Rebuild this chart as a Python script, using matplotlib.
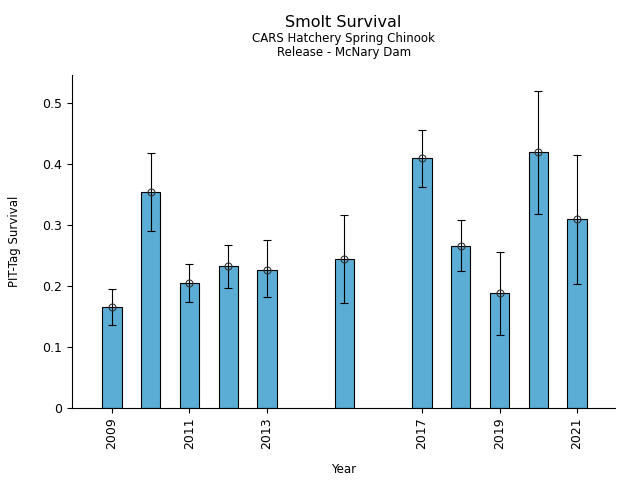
import numpy as np
import matplotlib
matplotlib.use('Agg')
import matplotlib.pyplot as plt
from matplotlib.ticker import FuncFormatter

years = [2009, 2010, 2011, 2012, 2013, 2015, 2017, 2018, 2019, 2020, 2021]
survival = [0.165, 0.354, 0.205, 0.232, 0.227, 0.244, 0.410, 0.265, 0.188, 0.419, 0.310]
ci_low = [0.136, 0.290, 0.173, 0.197, 0.182, 0.172, 0.362, 0.224, 0.119, 0.318, 0.203]
ci_high = [0.195, 0.418, 0.236, 0.267, 0.275, 0.316, 0.455, 0.308, 0.255, 0.519, 0.414]
xticks = [2009, 2011, 2013, 2017, 2019, 2021]

fig = plt.figure(figsize=(6.4, 4.8), dpi=100)
axis = fig.add_axes([0.1125, 0.15, 0.8485, 0.694])

surv = np.array(survival)
yerr = [surv - np.array(ci_low), np.array(ci_high) - surv]

# Bars with error bars and open circle markers
axis.bar(years, survival, width=0.5, color='#5BADD6', edgecolor='black', linewidth=0.8, zorder=2)
axis.errorbar(years, survival, yerr=yerr, fmt='o', markersize=5, markerfacecolor='none',
              markeredgecolor='#333333', markeredgewidth=0.8, ecolor='black', elinewidth=0.8,
              capsize=3, capthick=0.8, zorder=3)

axis.set_xlim(2007.97, 2021.98)
axis.set_ylim(0, 0.546)
axis.set_xticks(xticks)
axis.set_xticklabels([str(y) for y in xticks], rotation=90, fontsize=9)
axis.set_yticks([0, 0.1, 0.2, 0.3, 0.4, 0.5])
axis.yaxis.set_major_formatter(FuncFormatter(lambda v, p: '%g' % round(v, 2)))
axis.tick_params(axis='y', labelsize=9)
axis.spines['top'].set(visible=False)
axis.spines['right'].set(visible=False)

axis.set_xlabel('Year', fontsize=8.5, labelpad=10)
axis.set_ylabel('PIT-Tag Survival', fontsize=8.5, labelpad=15)

# Title block
fig.text(0.537, 0.953, 'Smolt Survival', ha='center', va='center', fontsize=11.5)
fig.text(0.537, 0.920, 'CARS Hatchery Spring Chinook', ha='center', va='center', fontsize=8.5)
fig.text(0.537, 0.891, 'Release - McNary Dam', ha='center', va='center', fontsize=8.5)

plt.savefig('out.png', dpi=100)
